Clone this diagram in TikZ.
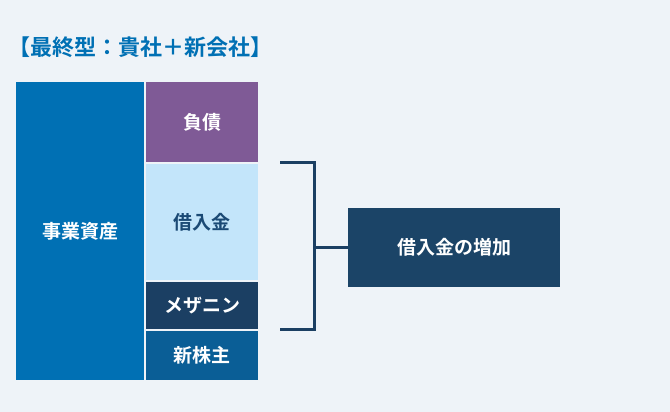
\documentclass[tikz,border=0pt]{standalone}
\usepackage{fontspec}
\newfontfamily\jpfont{Noto Sans CJK JP}[BoldFont={Noto Sans CJK JP Bold}]
\usetikzlibrary{positioning}
\definecolor{bgpale}{HTML}{EEF3F8}
\definecolor{assetblue}{HTML}{0070B4}
\definecolor{debtpurple}{HTML}{7F5A96}
\definecolor{loanlight}{HTML}{C3E5FA}
\definecolor{mezznavy}{HTML}{1B3F63}
\definecolor{sharesblue}{HTML}{0A5E96}
\definecolor{resultnavy}{HTML}{1B4467}
\definecolor{loantext}{HTML}{1B4A75}

\begin{document}
\begin{tikzpicture}[x=1pt,y=-1pt,
    block/.style={rectangle,inner sep=0pt,font=\jpfont\bfseries\fontsize{19}{22}\selectfont,text=white,align=center},
    brace/.style={draw=mezznavy,line width=3pt}
]
    \fill[bgpale] (0,0) rectangle (670,412);
    \useasboundingbox (0,0) rectangle (670,412);

    \node[anchor=west,inner sep=0pt,text=assetblue,font=\jpfont\bfseries\fontsize{22}{26}\selectfont] (title) at (8,47) {【最終型：貴社＋新会社】};

    \node[block,fill=assetblue,minimum width=128pt,minimum height=298pt] (assets) at (80,231) {事業資産};
    \node[block,fill=debtpurple,minimum width=112pt,minimum height=80pt] (debt) at (202,122) {負債};
    \node[block,fill=loanlight,text=loantext,minimum width=112pt,minimum height=116pt] (loan) at (202,222) {借入金};
    \node[block,fill=mezznavy,minimum width=112pt,minimum height=47pt] (mezz) at (202,305.5) {メザニン};
    \node[block,fill=sharesblue,minimum width=112pt,minimum height=49pt] (shares) at (202,355.5) {新株主};

    \node[block,fill=resultnavy,minimum width=212pt,minimum height=79pt] (increase) at (454,247.5) {借入金の増加};

    % bracket around the borrowed part
    \coordinate (btop) at (280,162);
    \coordinate (bbot) at (280,329);
    \draw[brace] (btop) -- ++(34,0) |- (bbot);
    \draw[brace] (314,247.5) -- (increase.west);
\end{tikzpicture}
\end{document}
